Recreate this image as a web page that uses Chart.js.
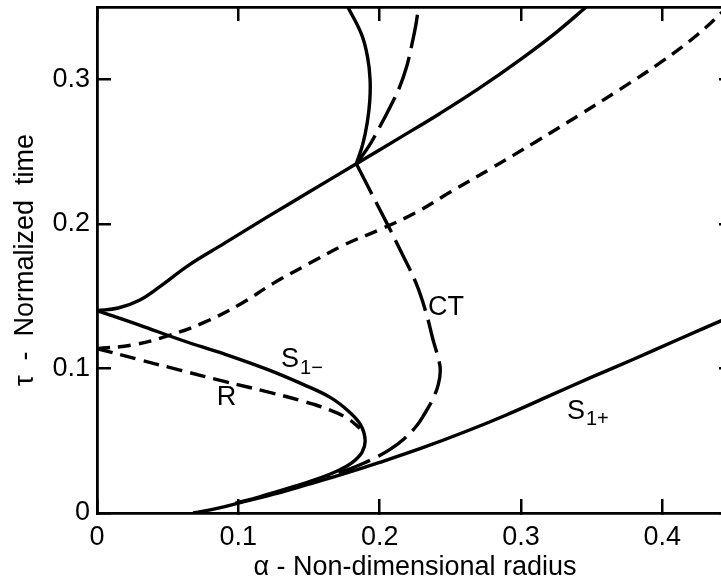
<!DOCTYPE html>
<html>
<head>
<meta charset="utf-8">
<script src="https://cdn.jsdelivr.net/npm/chart.js@4/dist/chart.umd.min.js"></script>
<style>
html,body{margin:0;padding:0;background:#fff;overflow:hidden;}
#wrap{width:721px;height:588px;overflow:hidden;position:relative;}
canvas{position:absolute;left:0;top:0;}
</style>
</head>
<body>
<div id="wrap"><canvas id="c" width="745" height="588"></canvas></div>
<script>
// ---- data (alpha = non-dimensional radius, tau = normalized time) ----
const xTickValues = [0, 0.1, 0.2, 0.3, 0.4];
const yTickValues = [0, 0.1, 0.2, 0.3];

const upperAlpha = [0, 0.015, 0.03, 0.045, 0.065, 0.09, 0.12, 0.15, 0.1835, 0.215, 0.2424, 0.27, 0.30, 0.325, 0.3461];
const upperTau   = [0.1400, 0.1418, 0.1472, 0.1570, 0.1715, 0.1865, 0.2045, 0.2220, 0.2416, 0.2600, 0.2762, 0.2935, 0.3140, 0.3325, 0.35];

const loopAlpha = [0.1835, 0.1880, 0.1912, 0.1930, 0.1932, 0.1915, 0.1872, 0.1775];
const loopTau   = [0.2416, 0.2550, 0.2700, 0.2850, 0.3000, 0.3150, 0.3310, 0.35];

const ctUpperAlpha = [0.1835, 0.1925, 0.2000, 0.2075, 0.2141, 0.2190, 0.2224, 0.2255, 0.2275];
const ctUpperTau   = [0.2416, 0.2540, 0.2670, 0.2810, 0.2946, 0.3085, 0.3223, 0.3370, 0.35];

const ctLowerAlpha = [0.1835, 0.1940, 0.2047, 0.2155, 0.2259, 0.2330, 0.2377, 0.2412, 0.2429, 0.2415, 0.2377, 0.2320, 0.2259, 0.2170, 0.2071, 0.1975, 0.1882, 0.1790, 0.1694, 0.1630];
const ctLowerTau   = [0.2416, 0.2215, 0.2012, 0.1800, 0.1586, 0.1380, 0.1200, 0.1080, 0.0990, 0.0890, 0.0790, 0.0690, 0.0600, 0.0510, 0.0438, 0.0385, 0.0342, 0.0305, 0.0272, 0.0255];

const rAlpha = [0, 0.03, 0.06, 0.09, 0.12, 0.145, 0.165, 0.178, 0.186];
const rTau   = [0.1137, 0.1060, 0.0985, 0.0910, 0.0840, 0.0775, 0.0712, 0.0650, 0.0585];

const shortAlpha = [0, 0.025, 0.05, 0.075, 0.1, 0.125, 0.15, 0.175, 0.2, 0.225, 0.25, 0.28, 0.31, 0.34, 0.37, 0.40, 0.425, 0.4463];
const shortTau   = [0.1137, 0.1162, 0.1225, 0.1315, 0.1437, 0.1590, 0.1725, 0.1855, 0.1960, 0.2075, 0.2220, 0.2390, 0.2565, 0.2745, 0.2930, 0.3125, 0.3310, 0.35];

const s1MinusAlpha = [0, 0.03, 0.06, 0.09, 0.12, 0.145, 0.165, 0.178, 0.1865, 0.1897, 0.1875, 0.1800, 0.1700, 0.1550, 0.1350, 0.1150, 0.0980];
const s1MinusTau   = [0.1400, 0.1300, 0.1195, 0.1100, 0.0995, 0.0893, 0.0800, 0.0704, 0.0610, 0.0505, 0.0420, 0.0345, 0.0290, 0.0232, 0.0170, 0.0112, 0.0068];

const s1PlusAlpha = [0.068, 0.085, 0.10, 0.125, 0.15, 0.175, 0.20, 0.23, 0.26, 0.29, 0.32, 0.35, 0.38, 0.41, 0.45];
const s1PlusTau   = [0, 0.0032, 0.0068, 0.0130, 0.0200, 0.0272, 0.0350, 0.0450, 0.0560, 0.0680, 0.0810, 0.0940, 0.1065, 0.1195, 0.1365];

// curve labels (text + anchor in data coordinates)
const labelText = ['S', 'R', 'CT', 'S'];
const labelSub  = ['1\u2212', '', '', '1+'];
const labelAlpha = [0.1366, 0.0916, 0.2469, 0.3389];
const labelTau   = [0.1058, 0.0799, 0.1418, 0.0702];

// ---- helpers ----
const pts = (xs, ys) => xs.map((x, i) => ({x: x, y: ys[i]}));
const FONT = "'Liberation Sans', Arial, sans-serif";

function line(xs, ys, dash) {
  return {
    data: pts(xs, ys),
    showLine: true,
    borderColor: '#000',
    borderWidth: 3.4,
    borderDash: dash,
    pointRadius: 0,
    tension: 0.4,
    fill: false
  };
}

const curveLabels = {
  id: 'curveLabels',
  afterDatasetsDraw(chart) {
    const ctx = chart.ctx;
    const xs = chart.scales.x, ys = chart.scales.y;
    ctx.save();
    ctx.fillStyle = '#000';
    ctx.textBaseline = 'middle';
    for (let i = 0; i < labelText.length; i++) {
      const px = xs.getPixelForValue(labelAlpha[i]);
      const py = ys.getPixelForValue(labelTau[i]);
      ctx.font = '27px ' + FONT;
      ctx.textAlign = 'center';
      ctx.fillText(labelText[i], px, py);
      if (labelSub[i]) {
        const w = ctx.measureText(labelText[i]).width;
        ctx.font = '20px ' + FONT;
        ctx.textAlign = 'left';
        ctx.fillText(labelSub[i], px + w / 2 + 1, py + 8);
      }
    }
    ctx.restore();
  }
};

const tickFmt = v => (Math.abs(v) < 1e-9 ? '0' : v.toFixed(1));
const noPad = s => { s.paddingTop = 0; s.paddingBottom = 0; s.paddingLeft = 0; s.paddingRight = 0; };

const gridCommon = {
  drawOnChartArea: false,
  drawTicks: true,
  tickLength: -14,
  color: '#000',
  lineWidth: 2.5
};
const borderCommon = {display: true, color: '#000', width: 2.8};

new Chart(document.getElementById('c'), {
  type: 'scatter',
  data: {
    datasets: [
      line(upperAlpha, upperTau, []),
      line(loopAlpha, loopTau, []),
      line(ctUpperAlpha, ctUpperTau, [34, 9]),
      line(ctLowerAlpha, ctLowerTau, [34, 9]),
      line(rAlpha, rTau, [16, 8]),
      line(shortAlpha, shortTau, [13, 8]),
      line(s1MinusAlpha, s1MinusTau, []),
      line(s1PlusAlpha, s1PlusTau, [])
    ]
  },
  options: {
    responsive: false,
    animation: false,
    devicePixelRatio: 1,
    events: [],
    layout: {padding: 0},
    plugins: {legend: {display: false}, tooltip: {enabled: false}},
    scales: {
      x: {
        type: 'linear', position: 'bottom', min: 0, max: 0.45,
        afterBuildTicks: s => { s.ticks = xTickValues.map(v => ({value: v})); },
        ticks: {callback: tickFmt, padding: 22, color: '#000', font: {family: FONT, size: 27}, maxRotation: 0},
        grid: gridCommon, border: borderCommon,
        title: {display: true, text: '\u03b1 - Non-dimensional radius', color: '#000', font: {family: FONT, size: 27}, padding: {top: 0, bottom: 4}},
        afterFit: s => { s.height = 75; noPad(s); }
      },
      x2: {
        type: 'linear', position: 'top', min: 0, max: 0.45,
        afterBuildTicks: s => { s.ticks = xTickValues.map(v => ({value: v})); },
        ticks: {display: false},
        grid: gridCommon, border: borderCommon,
        afterFit: s => { s.height = 7; noPad(s); }
      },
      y: {
        type: 'linear', position: 'left', min: 0, max: 0.35,
        afterBuildTicks: s => { s.ticks = yTickValues.map(v => ({value: v})); },
        ticks: {callback: tickFmt, padding: 21, color: '#000', font: {family: FONT, size: 27}},
        grid: gridCommon, border: borderCommon,
        title: {display: true, text: '\u03c4  -  Normalized  time', color: '#000', font: {family: FONT, size: 27}, padding: {top: 9, bottom: 0}},
        afterFit: s => { s.width = 97; noPad(s); }
      },
      y2: {
        type: 'linear', position: 'right', min: 0, max: 0.35,
        afterBuildTicks: s => { s.ticks = yTickValues.map(v => ({value: v})); },
        ticks: {display: false},
        grid: gridCommon, border: borderCommon,
        afterFit: s => { s.width = 12; noPad(s); }
      }
    }
  },
  plugins: [curveLabels]
});
</script>
</body>
</html>
